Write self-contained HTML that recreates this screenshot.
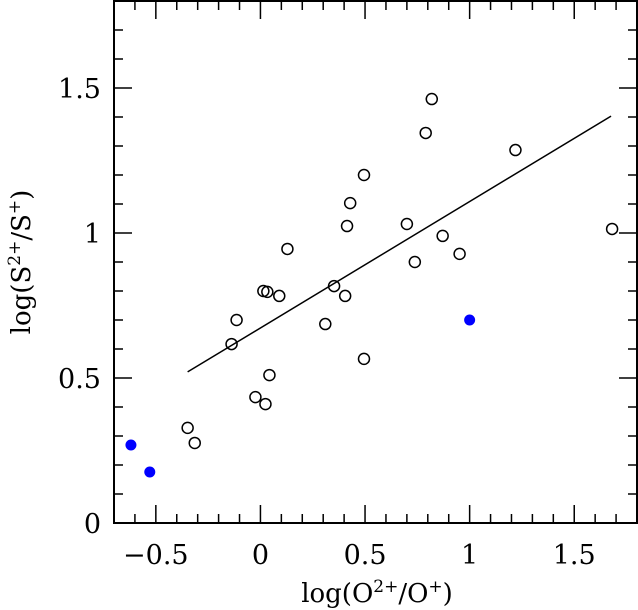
<!DOCTYPE html>
<html><head><meta charset="utf-8"><style>body{margin:0;background:#fff}svg{display:block}text{font-family:"DejaVu Serif","Liberation Serif",serif;fill:#000}</style></head>
<body>
<svg id="c" width="638" height="610"></svg>
<script>
const openX=[-0.348,-0.314,-0.024,0.024,0.043,-0.138,-0.114,0.014,0.033,0.09,0.129,0.31,0.352,0.405,0.414,0.429,0.495,0.495,0.70,0.738,0.79,0.819,0.871,0.952,1.219,1.681];
const openY=[0.328,0.276,0.434,0.41,0.51,0.617,0.70,0.80,0.797,0.783,0.945,0.686,0.817,0.783,1.024,1.103,1.2,0.566,1.031,0.9,1.345,1.462,0.99,0.928,1.286,1.014];
const filledX=[-0.619,-0.529,1.0];
const filledY=[0.269,0.176,0.70];
const fitX=[-0.348,1.676];
const fitY=[0.521,1.403];
const xTicks=[-0.5,0,0.5,1,1.5];
const xTickLabels=["\u22120.5","0","0.5","1","1.5"];
const yTicks=[0,0.5,1,1.5];
const yTickLabels=["0","0.5","1","1.5"];
const NS="http://www.w3.org/2000/svg";
const svg=document.getElementById('c');
const L=114,R=637,T=1,B=523,xmin=-0.7,xmax=1.8,ymin=0,ymax=1.8;
const sx=v=>L+(v-xmin)/(xmax-xmin)*(R-L);
const sy=v=>B-(v-ymin)/(ymax-ymin)*(B-T);
function mk(t,a){const e=document.createElementNS(NS,t);for(const k in a)e.setAttribute(k,a[k]);svg.appendChild(e);return e;}
let f=mk('rect',{x:L,y:T,width:R-L,height:B-T,fill:'none',stroke:'#000','stroke-width':2});


for(let i=-7;i<=18;i++){const v=i/10,x=sx(v),maj=i%5==0,len=maj?18:9;
 let t=mk('path',{d:`M${x},${B}v${-len}M${x},${T}v${len}`,stroke:'#000','stroke-width':1.5});
 
 }
for(let i=0;i<=18;i++){const v=i/10,y=sy(v),maj=i%5==0,len=maj?18:9;
 let t=mk('path',{d:`M${L},${y}h${len}M${R},${y}h${-len}`,stroke:'#000','stroke-width':1.5});
 
 }
xTicks.forEach((v,i)=>{let t=mk('text',{x:sx(v),y:564,'text-anchor':'middle','font-size':27});t.textContent=xTickLabels[i];
 
 });
yTicks.forEach((v,i)=>{let t=mk('text',{x:101,y:sy(v)+10,'text-anchor':'end','font-size':27});t.textContent=yTickLabels[i];
 
 });
let xl=mk('text',{x:377,y:602,'text-anchor':'middle','font-size':26});
xl.innerHTML='log(O<tspan dy="-10" font-size="17">2+</tspan><tspan dy="10">/O</tspan><tspan dy="-10" font-size="17">+</tspan><tspan dy="10">)</tspan>';


let yl=mk('text',{x:0,y:0,'text-anchor':'middle','font-size':26,transform:'translate(30,262) rotate(-90)'});
yl.innerHTML='log(S<tspan dy="-10" font-size="17">2+</tspan><tspan dy="10">/S</tspan><tspan dy="-10" font-size="17">+</tspan><tspan dy="10">)</tspan>';


let ln=mk('line',{x1:sx(fitX[0]),y1:sy(fitY[0]),x2:sx(fitX[1]),y2:sy(fitY[1]),stroke:'#000','stroke-width':1.5});


openX.forEach((v,i)=>{let c=mk('circle',{cx:sx(v),cy:sy(openY[i]),r:5.5,fill:'none',stroke:'#000','stroke-width':1.5});
 
 });
filledX.forEach((v,i)=>{let c=mk('circle',{cx:sx(v),cy:sy(filledY[i]),r:5.5,fill:'#0000ff'});
 
 });
</script>
</body></html>
